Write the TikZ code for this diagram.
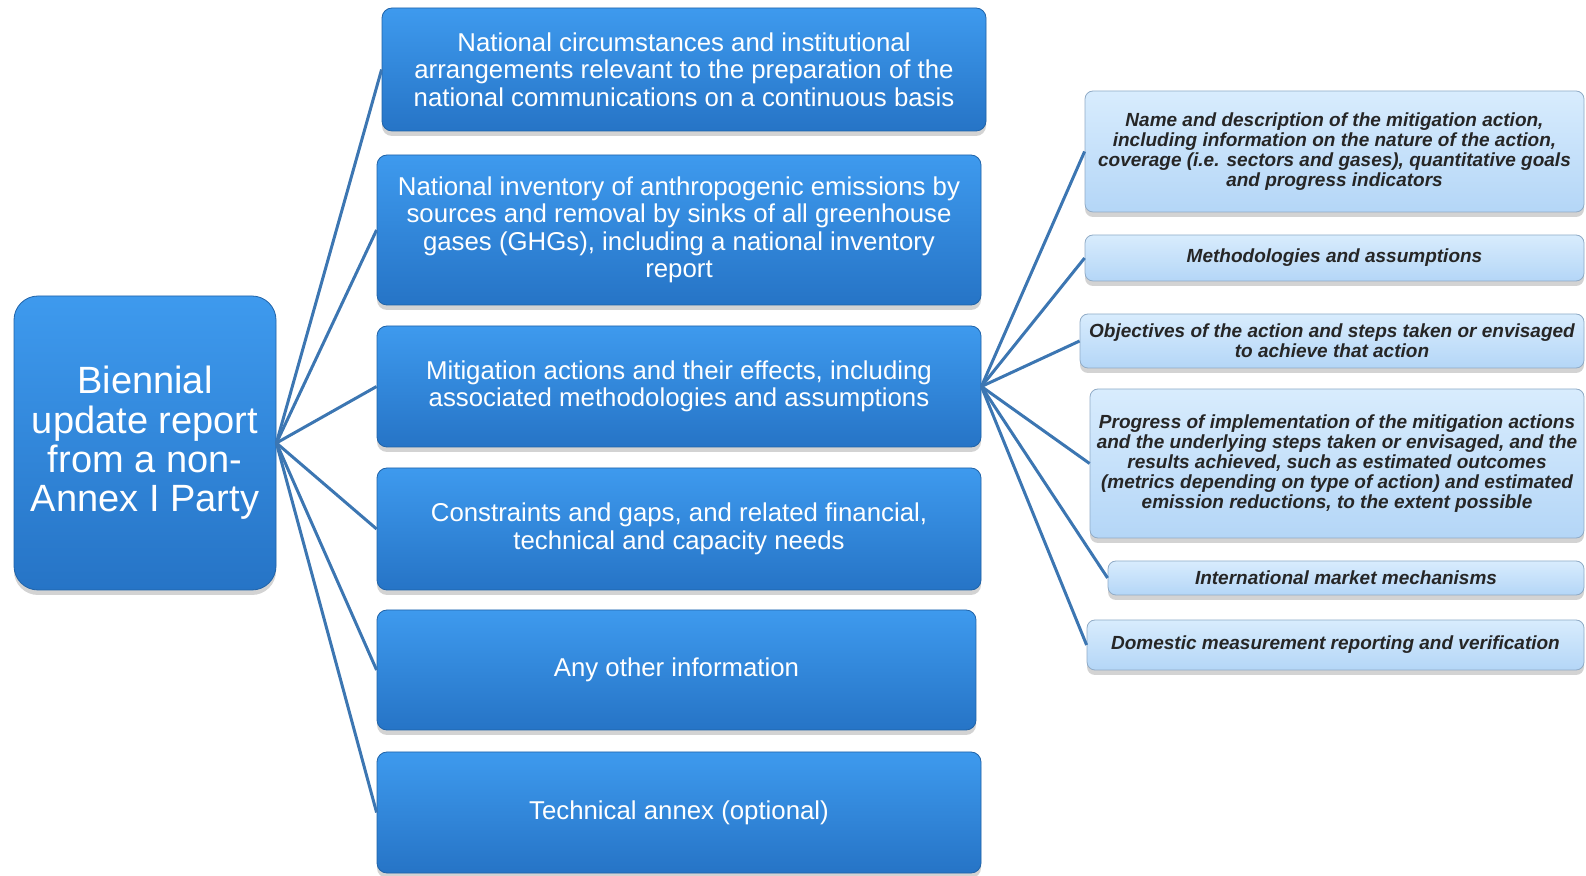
\documentclass[tikz,border=0pt]{standalone}
\usepackage{fontspec}
\setmainfont{Liberation Sans}
\usetikzlibrary{shadows}
\definecolor{bluetop}{RGB}{62,154,238}
\definecolor{bluebot}{RGB}{38,116,198}
\definecolor{paletop}{RGB}{216,236,253}
\definecolor{palebot}{RGB}{180,214,247}
\definecolor{linkc}{RGB}{60,118,178}
\tikzset{%
    lnk/.style={line width=1.5pt, draw=linkc},
    shd/.style={drop shadow={opacity=0.35, shadow xshift=0pt, shadow yshift=-2.5pt}},
    blu/.style={rectangle, rounded corners=5pt, inner sep=0pt, align=center, shd,
        top color=bluetop, bottom color=bluebot, draw=bluebot!85!black, line width=0.4pt,
        text=white, font=\fontsize{12.9}{13.7}\selectfont},
    roo/.style={blu, rounded corners=12pt, font=\fontsize{19}{19.7}\selectfont},
    pal/.style={rectangle, rounded corners=4pt, inner sep=0pt, align=center, shd,
        top color=paletop, bottom color=palebot, draw=palebot!80!black, line width=0.4pt,
        text=black!85, font=\fontsize{9.5}{10}\selectfont\bfseries\itshape},
}

\begin{document}
\begin{tikzpicture}[x=0.5pt, y=-0.5pt]
    \useasboundingbox (0,0) rectangle (1586,876);
    % root and first level
    \draw node[roo, minimum width=131pt, minimum height=147pt] (root) at (145,443)
        {Biennial\\update report\\from a non-\\Annex I Party};
    \draw node[blu, minimum width=302pt, minimum height=61.5pt] (nat) at (684,69.5)
        {National circumstances and institutional\\arrangements relevant to the preparation of the\\national communications on a continuous basis};
    \draw node[blu, minimum width=302pt, minimum height=75pt] (inv) at (679,230)
        {National inventory of anthropogenic emissions by\\sources and removal by sinks of all greenhouse\\gases (GHGs), including a national inventory\\report};
    \draw node[blu, minimum width=302pt, minimum height=60.5pt] (mit) at (679,386.5)
        {Mitigation actions and their effects, including\\associated methodologies and assumptions};
    \draw node[blu, minimum width=302pt, minimum height=61pt] (gap) at (679,529)
        {Constraints and gaps, and related financial,\\technical and capacity needs};
    \draw node[blu, minimum width=299.5pt, minimum height=60pt] (oth) at (676.5,670)
        {Any other information};
    \draw node[blu, minimum width=302pt, minimum height=60.5pt] (ann) at (679,812.5)
        {Technical annex (optional)};
    % second level under mitigation
    \draw node[pal, minimum width=249.5pt, minimum height=60.5pt] (m1) at (1334.5,151.5)
        {Name and description of the mitigation action,\\including information on the nature of the action,\\coverage (i.e. sectors and gases), quantitative goals\\and progress indicators};
    \draw node[pal, minimum width=249.5pt, minimum height=23pt] (m2) at (1334.5,258)
        {Methodologies and assumptions};
    \draw node[pal, minimum width=252pt, minimum height=27pt] (m3) at (1332,341)
        {Objectives of the action and steps taken or envisaged\\to achieve that action};
    \draw node[pal, minimum width=247pt, minimum height=74.5pt] (m4) at (1337,463.5)
        {Progress of implementation of the mitigation actions\\and the underlying steps taken or envisaged, and the\\results achieved, such as estimated outcomes\\(metrics depending on type of action) and estimated\\emission reductions, to the extent possible};
    \draw node[pal, minimum width=238pt, minimum height=17pt] (m5) at (1346,578)
        {International market mechanisms};
    \draw node[pal, minimum width=248.5pt, minimum height=25pt] (m6) at (1335.5,645)
        {Domestic measurement reporting and verification};
    % connectors
    \foreach \n in {nat,inv,mit,gap,oth,ann}
        \draw [lnk] (root.east) -- (\n.west);
    \foreach \n in {m1,m2,m3,m4,m5,m6}
        \draw [lnk] (mit.east) -- (\n.west);
\end{tikzpicture}
\end{document}
